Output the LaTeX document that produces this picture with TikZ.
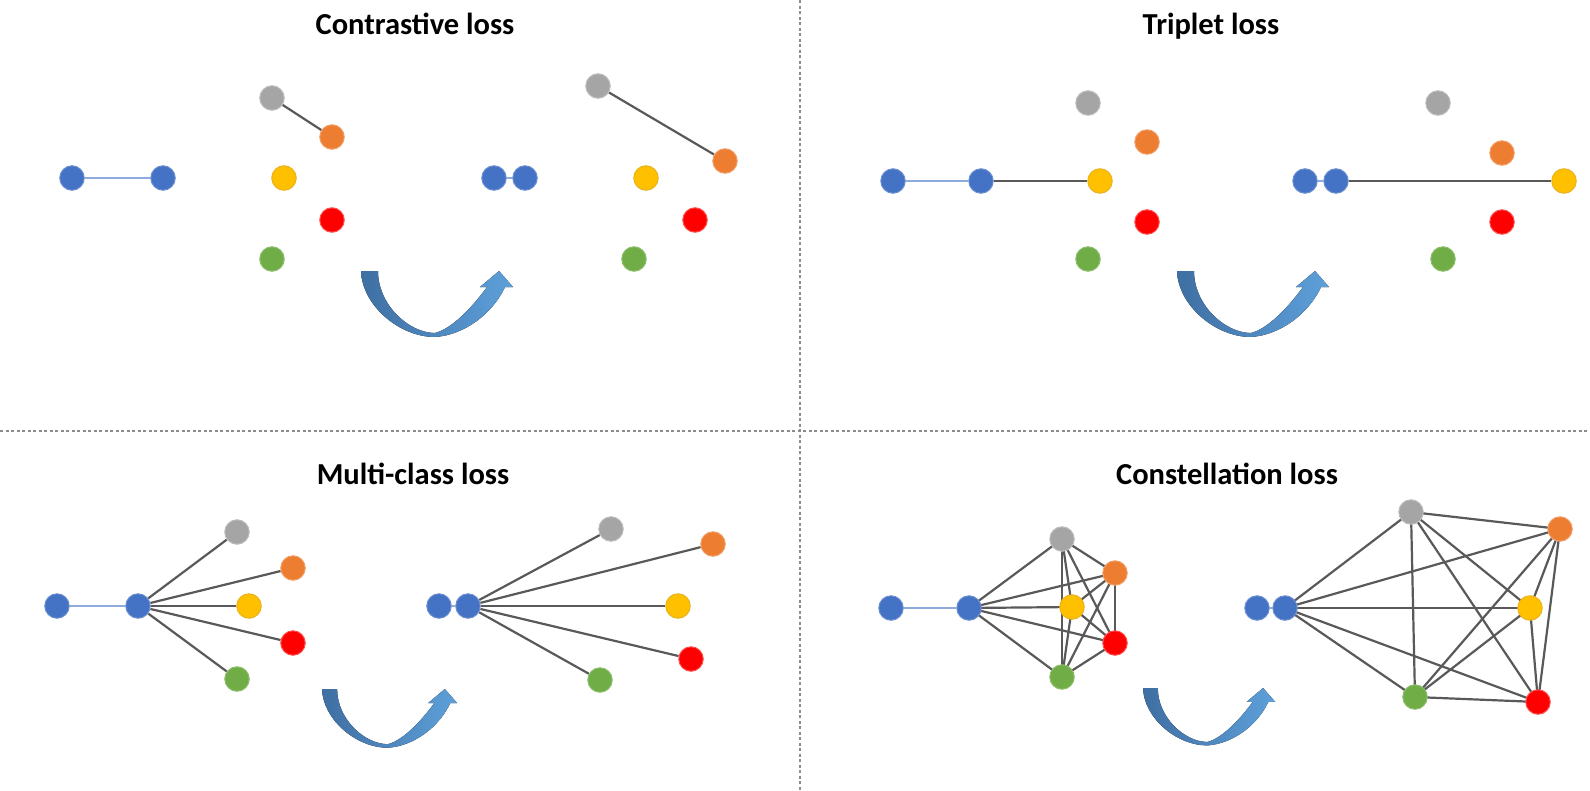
\documentclass[tikz,border=0pt]{standalone}
\usepackage{fontspec}
\setmainfont{Carlito}
\usetikzlibrary{backgrounds}
\definecolor{cblue}{HTML}{4472C4}
\definecolor{cblueb}{HTML}{6E90D2}
\definecolor{cgray}{HTML}{A5A5A5}
\definecolor{cgrayb}{HTML}{BDBDBD}
\definecolor{corange}{HTML}{ED7D31}
\definecolor{corangeb}{HTML}{F2A06A}
\definecolor{cyellow}{HTML}{FFC000}
\definecolor{cyellowb}{HTML}{E8B320}
\definecolor{cred}{HTML}{FF0000}
\definecolor{credb}{HTML}{FF5050}
\definecolor{cgreen}{HTML}{70AD47}
\definecolor{cgreenb}{HTML}{8DBE6C}
\definecolor{linkgray}{HTML}{595959}
\definecolor{linkblue}{HTML}{8FAADC}
\definecolor{arrL}{HTML}{3F6FA3}
\definecolor{arrR}{HTML}{5EA0DA}
\definecolor{divgray}{HTML}{8C8C8C}
\begin{document}
\begin{tikzpicture}[x=1pt,y=-1pt,
  ball/.style={circle, minimum size=24.5pt, inner sep=0pt, line width=1pt},
  bdot/.style={ball, fill=cblue, draw=cblueb},
  gdot/.style={ball, fill=cgray, draw=cgrayb},
  odot/.style={ball, fill=corange, draw=corangeb},
  ydot/.style={ball, fill=cyellow, draw=cyellowb},
  rdot/.style={ball, fill=cred, draw=credb},
  grdot/.style={ball, fill=cgreen, draw=cgreenb},
  link/.style={draw=linkgray, line width=2.2pt},
  blink/.style={draw=linkblue, line width=2.2pt},
  divider/.style={draw=divgray, line width=1.2pt, dash pattern=on 3pt off 2.5pt},
  title/.style={font=\bfseries\fontsize{30.5}{36}\selectfont, anchor=base, inner sep=0pt},
  uturn/.pic={
    \fill[left color=arrL, right color=arrR]
      (0,0) -- (17,0) .. controls (17,34) and (48,62) .. (74,62)
      .. controls (90,58) and (110,38) .. (126,16)
      -- (119,16) -- (138,0) -- (152,16) -- (144,16)
      .. controls (132,42) and (104,64) .. (74,66)
      .. controls (38,66) and (1,34) .. (0,0) -- cycle;
  }
]
\useasboundingbox (0,0) rectangle (1590,790);

% dividers
\coordinate (vt) at (800,0);
\coordinate (vb) at (800,790);
\coordinate (hl) at (0,431);
\coordinate (hr) at (1590,431);
\draw[divider] (vt) -- (vb);
\draw[divider] (hl) -- (hr);

% titles
\node[title] (t1) at (415,34) {Contrastive loss};
\node[title] (t2) at (1211,34) {Triplet loss};
\node[title] (t3) at (413,484) {Multi-class loss};
\node[title] (t4) at (1227,484) {Constellation loss};

% ---------- Panel 1: contrastive ----------
\node[bdot] (a1) at (72,178) {};
\node[bdot] (a2) at (163,178) {};
\node[gdot] (ag) at (272,98) {};
\node[odot] (ao) at (332,137) {};
\node[ydot] (ay) at (284,178) {};
\node[rdot] (ar) at (332,220) {};
\node[grdot] (agr) at (272,259) {};
\node[bdot] (b1) at (494,178) {};
\node[bdot] (b2) at (525,178) {};
\node[gdot] (bg) at (598,86) {};
\node[odot] (bo) at (725,161) {};
\node[ydot] (by) at (646,178) {};
\node[rdot] (br) at (695,220) {};
\node[grdot] (bgr) at (634,259) {};
\pic at (361,271) {uturn};

% ---------- Panel 2: triplet ----------
\node[bdot] (c1) at (893,181) {};
\node[bdot] (c2) at (981,181) {};
\node[gdot] (cg) at (1088,103) {};
\node[odot] (co) at (1147,142) {};
\node[ydot] (cy) at (1100,181) {};
\node[rdot] (cr) at (1147,222) {};
\node[grdot] (cgr) at (1088,259) {};
\node[bdot] (d1) at (1305,181) {};
\node[bdot] (d2) at (1336,181) {};
\node[gdot] (dg) at (1438,103) {};
\node[odot] (do) at (1502,153) {};
\node[ydot] (dy) at (1564,181) {};
\node[rdot] (dr) at (1502,222) {};
\node[grdot] (dgr) at (1443,259) {};
\pic at (1177,271) {uturn};

% ---------- Panel 3: multi-class ----------
\node[bdot] (e1) at (57,606) {};
\node[bdot] (e2) at (138,606) {};
\node[gdot] (eg) at (237,532) {};
\node[odot] (eo) at (293,568) {};
\node[ydot] (ey) at (249,606) {};
\node[rdot] (er) at (293,643) {};
\node[grdot] (egr) at (237,679) {};
\node[bdot] (f1) at (439,606) {};
\node[bdot] (f2) at (468,606) {};
\node[gdot] (fg) at (611,529) {};
\node[odot] (fo) at (713,544) {};
\node[ydot] (fy) at (678,606) {};
\node[rdot] (fr) at (691,659) {};
\node[grdot] (fgr) at (600,680) {};
\pic[scale=0.89] at (322,689) {uturn};

% ---------- Panel 4: constellation ----------
\node[bdot] (g1) at (891,608) {};
\node[bdot] (g2) at (969,608) {};
\node[gdot] (gg) at (1062,539) {};
\node[odot] (go) at (1115,573) {};
\node[ydot] (gy) at (1072,607) {};
\node[rdot] (gr) at (1115,643) {};
\node[grdot] (ggr) at (1062,677) {};
\node[bdot] (h1) at (1257,608) {};
\node[bdot] (h2) at (1285,608) {};
\node[gdot] (hg) at (1411,512) {};
\node[odot] (ho) at (1560,529) {};
\node[ydot] (hy) at (1530,608) {};
\node[rdot] (hr) at (1538,702) {};
\node[grdot] (hgr) at (1415,697) {};
\pic[scale=0.87] at (1143,688) {uturn};

\begin{pgfonlayer}{background}
  % panel 1
  \draw[blink] (a1) -- (a2);
  \draw[link] (ag) -- (ao);
  \draw[blink] (b1) -- (b2);
  \draw[link] (bg) -- (bo);
  % panel 2
  \draw[blink] (c1) -- (c2);
  \draw[link] (c2) -- (cy);
  \draw[blink] (d1) -- (d2);
  \draw[link] (d2) -- (dy);
  % panel 3
  \draw[blink] (e1) -- (e2);
  \foreach \t in {eg,eo,ey,er,egr} \draw[link] (e2) -- (\t);
  \draw[blink] (f1) -- (f2);
  \foreach \t in {fg,fo,fy,fr,fgr} \draw[link] (f2) -- (\t);
  % panel 4
  \draw[blink] (g1) -- (g2);
  \foreach \t in {gg,go,gy,gr,ggr} \draw[link] (g2.center) -- (\t.center);
  \foreach \s/\t in {gg/go,gg/gy,gg/gr,gg/ggr,go/gy,go/gr,go/ggr,gy/gr,gy/ggr,gr/ggr}
    \draw[link] (\s.center) -- (\t.center);
  \draw[blink] (h1) -- (h2);
  \foreach \t in {hg,ho,hy,hr,hgr} \draw[link] (h2.center) -- (\t.center);
  \foreach \s/\t in {hg/ho,hg/hy,hg/hr,hg/hgr,ho/hy,ho/hr,ho/hgr,hy/hr,hy/hgr,hr/hgr}
    \draw[link] (\s.center) -- (\t.center);
\end{pgfonlayer}
\end{tikzpicture}
\end{document}
